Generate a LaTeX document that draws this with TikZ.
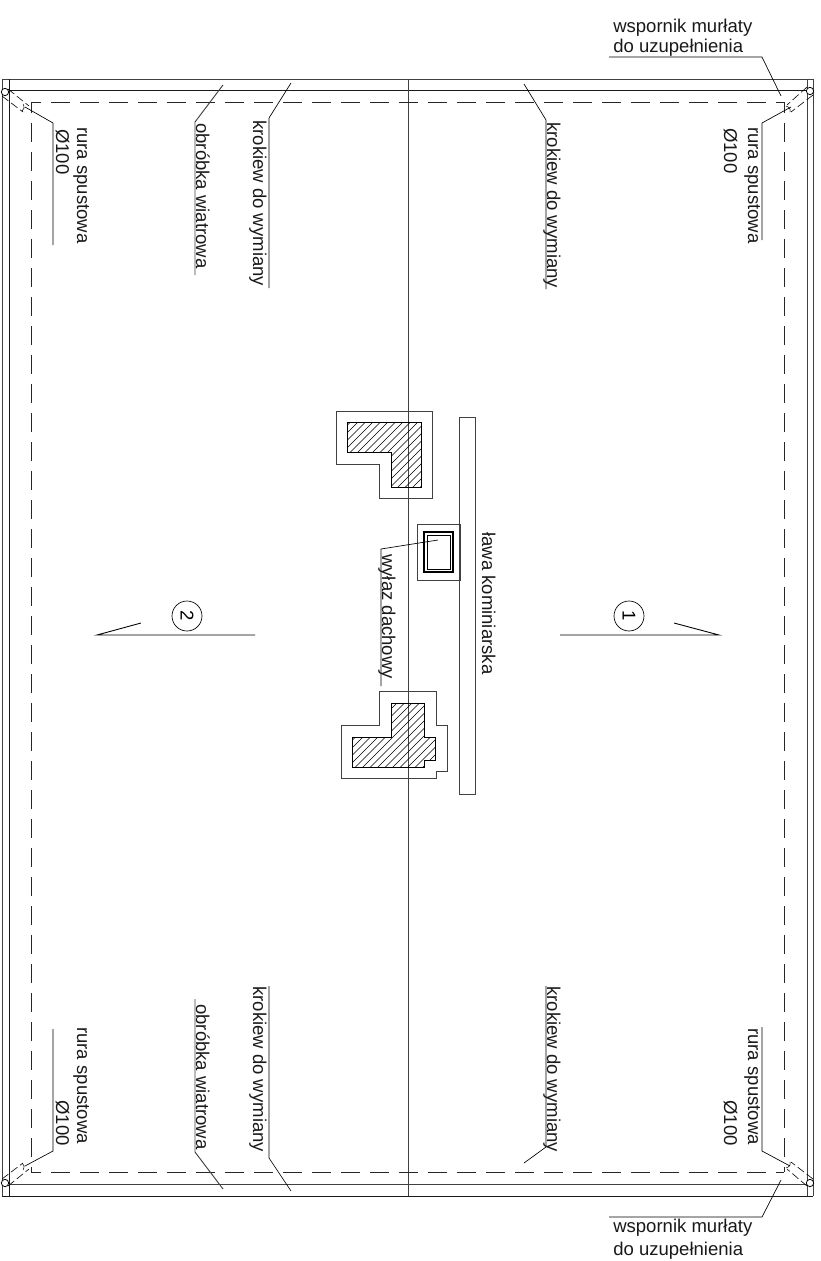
\documentclass[tikz,border=0pt]{standalone}
\usepackage{fontspec}
\setmainfont{Liberation Sans}
\tikzset{
  ln/.style={line width=0.7pt,black!75},
  dk/.style={line width=0.65pt,black!90},
  thin ln/.style={line width=0.5pt,black},
  dash ln/.style={line width=0.65pt,black!85,dash pattern=on 14.25pt off 7.5pt},
  pipe/.style={line width=0.45pt,black,dash pattern=on 6pt off 2.5pt},
  elbow/.style={line width=0.4pt,black},
  lbl/.style={font=\fontsize{13.9}{13.9}\selectfont,inner sep=0pt,text=black!90},
  vlbl/.style={lbl,rotate=-90},
  hatchline/.style={line width=0.4pt,black},
  hatchedge/.style={line width=0.65pt,black},
  ring/.style={circle,draw,line width=0.5pt,minimum size=22.5pt,inner sep=0pt,font=\fontsize{13.9}{13.9}\selectfont,rotate=-90},
  gutter/.style={circle,draw,line width=0.6pt,fill=white,minimum size=5.5pt,inner sep=0pt}
}
\begin{document}
\begin{tikzpicture}[x=0.75pt,y=-0.75pt]
\useasboundingbox (0,0) rectangle (821,1261);
% roof outline
\draw[ln] (2,79) -- (813,79);
\draw[dk] (2,1196) -- (813,1196);
\draw[ln] (2,79) -- (2,1196);
\draw[ln] (813,79) -- (813,1196);
\draw[dk] (9,79) -- (9,1196);
\draw[ln] (807,79) -- (807,1196);
\draw[dk] (9,90) -- (807,90);
\draw[ln] (9,1184) -- (807,1184);
\draw[ln] (408,79) -- (408,1196);
% dashed eaves
\draw[dash ln,dash phase=6.75pt] (31,102) -- (784,102);
\draw[dash ln,dash phase=6.75pt] (31,1172) -- (784,1172);
\draw[dash ln,dash phase=6pt] (31,102) -- (31,1172);
\draw[dash ln,dash phase=6pt] (784,102) -- (784,1172);
% gutters
\draw[pipe] (807,87) -- (787,105);
\draw[pipe] (813,95) -- (791,112);
\draw[elbow] (786,106) .. controls (789,107) and (791,109) .. (790,112);
\draw[pipe] (8,89) -- (29,106);
\draw[pipe] (2,96) -- (23,112);
\draw[elbow] (23,104) .. controls (25,107) and (24,110) .. (22,111);
\draw[pipe] (807,1186) -- (787,1169);
\draw[pipe] (813,1179) -- (791,1162);
\draw[elbow] (786,1168) .. controls (789,1167) and (791,1165) .. (790,1162);
\draw[pipe] (8,1186) -- (29,1169);
\draw[pipe] (2,1179) -- (23,1163);
\draw[elbow] (23,1170) .. controls (25,1167) and (24,1164) .. (22,1163);
\node[gutter] (gTR) at (810,91) {};
\node[gutter] (gTL) at (5,92) {};
\node[gutter] (gBR) at (810,1183) {};
\node[gutter] (gBL) at (5,1183) {};
% leaders with text
\coordinate (lTR) at (791,107);
\coordinate (lTL) at (25,107);
\coordinate (lBR) at (790,1166);
\coordinate (lBL) at (25,1166);
\draw[thin ln] (lTR) -- (762,123) -- (762,240);
\node[vlbl,anchor=base west] (t1) at (748,127) {rura spustowa};
\node[vlbl,anchor=base west] (t2) at (724,128) {Ø100};
\draw[thin ln] (lTL) -- (53,123) -- (53,245);
\node[vlbl,anchor=base west] (t3) at (77,127) {rura spustowa};
\node[vlbl,anchor=base west] (t4) at (56,129) {Ø100};
\draw[thin ln] (lBR) -- (762,1151) -- (762,1027);
\node[vlbl,anchor=base east] (t5) at (748,1145) {rura spustowa};
\node[vlbl,anchor=base east] (t6) at (724,1146) {Ø100};
\draw[thin ln] (lBL) -- (53,1151) -- (53,1029);
\node[vlbl,anchor=base east] (t7) at (77,1144) {rura spustowa};
\node[vlbl,anchor=base east] (t8) at (56,1146) {Ø100};
% krokiew
\coordinate (kA) at (524,84);
\coordinate (kB) at (524,1163);
\coordinate (kC) at (291,83);
\coordinate (kD) at (291,1191);
\draw[thin ln] (kA) -- (546,120) -- (546,289);
\node[vlbl,anchor=base west] (k1) at (547,122) {krokiew do wymiany};
\draw[thin ln] (kB) -- (546,1147) -- (546,986);
\node[vlbl,anchor=base west] (k2) at (547,986) {krokiew do wymiany};
\draw[thin ln] (kC) -- (269,118) -- (269,288);
\node[vlbl,anchor=base west] (k3) at (253,120) {krokiew do wymiany};
\draw[thin ln] (kD) -- (269,1158) -- (269,986);
\node[vlbl,anchor=base west] (k4) at (253,986) {krokiew do wymiany};
% obrobka
\coordinate (oA) at (223,85);
\coordinate (oB) at (223,1189);
\draw[ln] (oA) -- (195,122) -- (195,275);
\node[vlbl,anchor=base west] (o1) at (196,123) {obróbka wiatrowa};
\draw[ln] (oB) -- (195,1152) -- (195,999);
\node[vlbl,anchor=base west] (o2) at (196,1004) {obróbka wiatrowa};
% murlata
\coordinate (mA) at (781,96);
\coordinate (mB) at (781,1180);
\draw[thin ln] (609,57) -- (762,57) -- (mA);
\node[lbl,anchor=base west] (m1) at (613,32) {wspornik murłaty};
\node[lbl,anchor=base west] (m2) at (613,52) {do uzupełnienia};
\draw[thin ln] (609,1217) -- (762,1217) -- (mB);
\node[lbl,anchor=base west] (m3) at (613,1232) {wspornik murłaty};
\node[lbl,anchor=base west] (m4) at (613,1255) {do uzupełnienia};
% lawa
\draw[ln] (459,417) rectangle (475,794);
\node[vlbl,anchor=base west] (lawa) at (482,532) {ława kominiarska};
% chimney 1
\draw[ln] (336,411) -- (432,411) -- (432,498) -- (379,498) -- (379,464) -- (336,464) -- cycle;
\begin{scope}
\clip (347,422) -- (421,422) -- (421,487) -- (391,487) -- (391,452) -- (347,452) -- cycle;
\foreach \i in {0,7.5,...,150} \draw[hatchline] (270+\i,495) -- +(150,-150);
\end{scope}
\draw[hatchedge] (347,422) -- (421,422) -- (421,487) -- (391,487) -- (391,452) -- (347,452) -- cycle;
% chimney 2
\draw[ln] (379,691) -- (436,691) -- (436,725) -- (447,725) -- (447,771) -- (436,771) -- (436,778) -- (341,778) -- (341,725) -- (379,725) -- cycle;
\begin{scope}
\clip (391,703) -- (424,703) -- (424,737) -- (435,737) -- (435,760) -- (424,760) -- (424,767) -- (352,767) -- (352,737) -- (391,737) -- cycle;
\foreach \i in {0,7.5,...,120} \draw[hatchline] (310+\i,775) -- +(150,-150);
\end{scope}
\draw[hatchedge] (391,703) -- (424,703) -- (424,737) -- (435,737) -- (435,760) -- (424,760) -- (424,767) -- (352,767) -- (352,737) -- (391,737) -- cycle;
% roof hatch
\draw[ln] (417,524) rectangle (460,580);
\draw[line width=1pt,black] (424,532) rectangle (453,572);
\draw[thin ln] (427,535) rectangle (450,569);
\coordinate (wA) at (438,540);
\draw[thin ln] (wA) -- (381,549) -- (381,686);
\node[vlbl,anchor=base west] (w) at (382,554) {wyłaz dachowy};
% section marks
\draw[line width=0.65pt] (560,635) -- (719,635) -- (674,623);
\node[ring] (s1) at (629,616) {1};
\draw[line width=0.65pt] (255,635) -- (97,635) -- (141,623);
\node[ring] (s2) at (187,616) {2};
\end{tikzpicture}
\end{document}
